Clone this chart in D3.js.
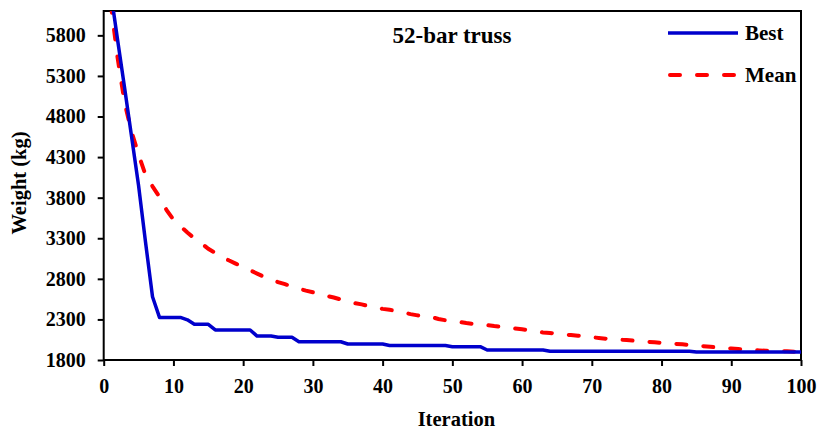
<!DOCTYPE html>
<html>
<head>
<meta charset="utf-8">
<script src="https://cdn.jsdelivr.net/npm/d3@7"></script>
<style>
  html, body { margin: 0; padding: 0; background: #fff; }
  svg { display: block; }
  text { font-family: "Liberation Serif", "Times New Roman", serif; font-weight: bold; fill: #000; }
</style>
</head>
<body>
<svg id="chart" width="819" height="432"></svg>
<script>
// ---- data ----
const iterations = d3.range(1, 101);
const bestValues = [
  6340, 5740, 5150, 4550, 3950, 3250, 2580, 2325, 2325, 2325,
  2325, 2295, 2240, 2240, 2240, 2170, 2170, 2170, 2170, 2170,
  2170, 2095, 2095, 2095, 2080, 2080, 2080, 2025, 2025, 2025,
  2025, 2025, 2025, 2025, 1997, 1997, 1997, 1997, 1997, 1997,
  1978, 1978, 1978, 1978, 1978, 1978, 1978, 1978, 1978, 1964,
  1964, 1964, 1964, 1964, 1923, 1923, 1923, 1923, 1923, 1923,
  1923, 1923, 1923, 1907, 1907, 1907, 1907, 1907, 1907, 1907,
  1907, 1907, 1907, 1907, 1907, 1907, 1907, 1907, 1907, 1907,
  1907, 1907, 1907, 1907, 1898, 1898, 1898, 1898, 1898, 1898,
  1898, 1898, 1898, 1898, 1898, 1898, 1898, 1898, 1898, 1898
];
const meanValues = [
  6200, 5520, 4970, 4610, 4330, 4080, 3940, 3810, 3650, 3530,
  3450, 3370, 3300, 3240, 3170, 3120, 3070, 3025, 2985, 2940,
  2905, 2865, 2825, 2795, 2760, 2735, 2705, 2680, 2655, 2635,
  2610, 2590, 2570, 2545, 2520, 2500, 2485, 2465, 2450, 2430,
  2420, 2400, 2385, 2365, 2350, 2340, 2330, 2305, 2290, 2280,
  2270, 2255, 2245, 2235, 2230, 2218, 2208, 2198, 2188, 2178,
  2166, 2152, 2140, 2133, 2125, 2115, 2107, 2100, 2092, 2080,
  2072, 2063, 2055, 2050, 2045, 2038, 2032, 2025, 2018, 2012,
  2005, 1999, 1993, 1985, 1976, 1970, 1963, 1956, 1948, 1941,
  1935, 1929, 1923, 1918, 1914, 1912, 1910, 1907, 1903, 1900
];
const xTicks = [0, 10, 20, 30, 40, 50, 60, 70, 80, 90, 100];
const yTicks = [1800, 2300, 2800, 3300, 3800, 4300, 4800, 5300, 5800];
const seriesNames = ["Best", "Mean"];
const titleText = "52-bar truss";
const xLabel = "Iteration";
const yLabel = "Weight (kg)";

// ---- layout ----
const svg = d3.select("#chart");
const pL = 103.7, pR = 801, pT = 11, pB = 360;
const x = d3.scaleLinear().domain([0, 100]).range([pL, pR]);
const y = d3.scaleLinear().domain([1800, 6100]).range([pB, pT]);
const FONT = "'Liberation Serif', 'Times New Roman', serif";

svg.append("defs").append("clipPath").attr("id", "plotclip")
  .append("rect").attr("x", pL).attr("y", pT)
  .attr("width", pR - pL).attr("height", pB - pT);

// axes
const yAxis = d3.axisLeft(y).tickValues(yTicks).tickSize(6).tickPadding(12).tickFormat(d3.format("d"));
const xAxis = d3.axisBottom(x).tickValues(xTicks).tickSize(6).tickPadding(13).tickFormat(d3.format("d"));

const gy = svg.append("g").attr("transform", `translate(${pL},0)`).call(yAxis);
const gx = svg.append("g").attr("transform", `translate(0,${pB})`).call(xAxis);
[gx, gy].forEach(g => {
  g.attr("font-size", 20).attr("font-family", FONT).attr("font-weight", "bold");
  g.select(".domain").remove();
  g.selectAll(".tick line").attr("stroke", "#000").attr("stroke-width", 2);
  g.selectAll(".tick text").attr("fill", "#000")
    .attr("font-size", 20).style("font-size", "20px")
    .style("font-family", FONT).style("font-weight", "bold");
});

// frame
svg.append("rect").attr("x", pL).attr("y", pT)
  .attr("width", pR - pL).attr("height", pB - pT)
  .attr("fill", "none").attr("stroke", "#000").attr("stroke-width", 2);

// lines
const line = d3.line().x((d, i) => x(iterations[i])).y(d => y(d));
const plot = svg.append("g").attr("clip-path", "url(#plotclip)");
plot.append("path").datum(meanValues).attr("d", line)
  .attr("fill", "none").attr("stroke", "#FF0000").attr("stroke-width", 4)
  .attr("stroke-dasharray", "10,17").attr("stroke-linecap", "round");
plot.append("path").datum(bestValues).attr("d", line)
  .attr("fill", "none").attr("stroke", "#0000CC").attr("stroke-width", 3.5)
  .attr("stroke-linejoin", "round");

// title
svg.append("text").attr("x", 452).attr("y", 43).attr("text-anchor", "middle")
  .style("font-size", "23px").text(titleText);

// legend
const leg = svg.append("g");
leg.append("line").attr("x1", 668).attr("x2", 738).attr("y1", 33).attr("y2", 33)
  .attr("stroke", "#0000CC").attr("stroke-width", 3.5);
leg.append("text").attr("x", 745).attr("y", 40).style("font-size", "21px").text(seriesNames[0]);
leg.append("line").attr("x1", 670).attr("x2", 738).attr("y1", 75).attr("y2", 75)
  .attr("stroke", "#FF0000").attr("stroke-width", 4)
  .attr("stroke-dasharray", "10,17").attr("stroke-linecap", "round");
leg.append("text").attr("x", 745).attr("y", 82).style("font-size", "21px").text(seriesNames[1]);

// axis labels
svg.append("text").attr("x", (pL + pR) / 2 + 4).attr("y", 426)
  .attr("text-anchor", "middle").style("font-size", "20.5px").text(xLabel);
svg.append("text").attr("transform", `translate(26,183) rotate(-90)`)
  .attr("text-anchor", "middle").style("font-size", "20.5px").text(yLabel);
</script>
</body>
</html>
